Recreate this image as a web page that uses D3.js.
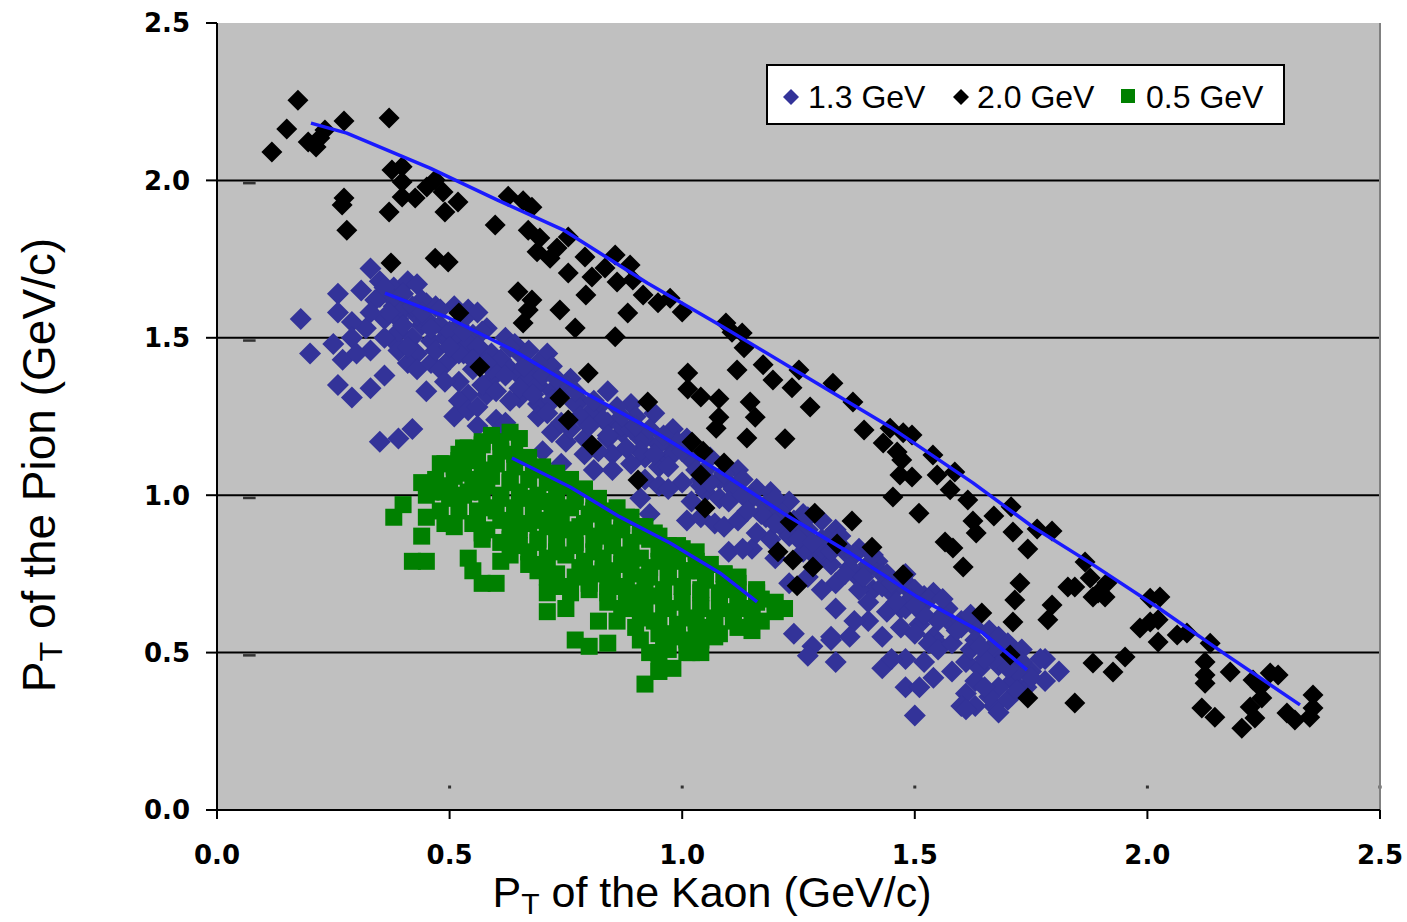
<!DOCTYPE html>
<html>
<head>
<meta charset="utf-8">
<script src="https://cdn.jsdelivr.net/npm/d3@7/dist/d3.min.js"></script>
<style>
html,body{margin:0;padding:0;background:#fff;}
svg{display:block;}
</style>
</head>
<body>
<svg id="chart" width="1407" height="922"></svg>
<script>
// ---------------- DATA (PT kaon, PT pion) in GeV/c ----------------
const seriesNames = ["1.3 GeV", "2.0 GeV", "0.5 GeV"];
const xTicks = [0, 0.5, 1.0, 1.5, 2.0, 2.5];
const yTicks = [0, 0.5, 1.0, 1.5, 2.0, 2.5];

const pts13 = [
[0.18,1.56],[0.20,1.45],[0.26,1.64],[0.25,1.48],[0.27,1.43],[0.26,1.35],[0.29,1.31],[0.33,1.34],[0.36,1.38],[0.33,1.46],
[0.32,1.53],[0.29,1.55],[0.26,1.58],[0.29,1.50],[0.30,1.45],[0.31,1.65],[0.33,1.72],[0.35,1.68],[0.35,1.63],[0.36,1.56],
[0.38,1.60],[0.38,1.66],[0.41,1.68],[0.43,1.67],[0.39,1.56],[0.38,1.49],[0.39,1.46],[0.42,1.50],[0.43,1.45],[0.41,1.42],
[0.43,1.40],[0.45,1.33],[0.42,1.21],[0.39,1.18],[0.35,1.17],[0.45,1.61],[0.44,1.54],[0.47,1.60],[0.46,1.42],[0.48,1.40],
[0.50,1.43],[0.49,1.50],[0.51,1.60],[0.52,1.54],[0.54,1.59],[0.56,1.58],[0.58,1.53],[0.55,1.51],[0.53,1.45],[0.55,1.40],
[0.52,1.36],[0.54,1.32],[0.52,1.30],[0.51,1.25],[0.54,1.27],[0.56,1.28],[0.58,1.32],[0.56,1.22],[0.60,1.24],[0.61,1.21],
[0.59,1.37],[0.62,1.50],[0.65,1.45],[0.65,1.31],[0.60,1.41],
[0.69,1.29],[0.71,1.45],[0.67,1.40],[0.72,1.41],[0.76,1.37],[0.78,1.30],[0.72,1.20],[0.70,1.14],[0.74,1.10],[0.75,1.17],
[0.79,1.18],[0.79,1.13],[0.81,1.08],[0.84,1.33],[0.82,1.28],[0.84,1.23],[0.84,1.18],[0.85,1.13],[0.85,1.08],[0.87,1.20],
[0.89,1.29],[0.90,1.25],[0.91,1.18],[0.94,1.26],[0.92,1.12],[0.95,1.09],[0.92,1.05],[0.95,1.03],[0.98,1.21],[0.97,1.12],
[1.00,1.04],[0.98,1.15],[1.01,1.18],[1.04,1.05],[1.05,1.01],[1.08,0.99],[0.91,0.99],[0.93,0.94],[1.01,0.92],[1.04,0.93],
[1.07,0.91],[0.62,1.23],[0.61,1.43],[0.64,1.48],[0.67,1.46],
[1.12,1.08],[1.10,1.04],[1.16,1.02],[1.19,1.01],[1.18,0.93],[1.23,0.98],[1.22,0.89],[1.25,0.90],[1.26,0.94],[1.30,0.92],
[1.33,0.89],[1.30,0.86],[1.29,0.80],[1.32,0.78],[1.35,0.82],[1.38,0.83],[1.37,0.75],[1.40,0.77],[1.42,0.79],[1.43,0.75],
[1.41,0.70],[1.38,0.70],[1.33,0.72],[1.30,0.70],[1.27,0.74],[1.23,0.72],[1.19,0.86],[1.20,0.80],[1.15,0.83],[1.10,0.82],
[1.13,0.83],[1.09,0.90],[1.45,0.69],[1.47,0.64],[1.48,0.71],[1.52,0.68],[1.54,0.69],[1.57,0.64],[1.58,0.59],[1.51,0.59],
[1.47,0.58],[1.43,0.55],[1.40,0.60],[1.37,0.60],[1.33,0.64],[1.36,0.55],[1.24,0.56],[1.28,0.52],[1.32,0.55],[1.44,0.63],
[1.40,0.66],[1.54,0.55],[1.55,0.53],
[1.49,0.71],[1.48,0.64],[1.57,0.64],[1.60,0.60],[1.63,0.58],[1.66,0.57],[1.68,0.55],[1.50,0.56],[1.53,0.53],[1.55,0.51],
[1.48,0.48],[1.52,0.47],[1.58,0.44],[1.61,0.47],[1.64,0.45],[1.68,0.47],[1.71,0.49],[1.73,0.51],[1.75,0.44],[1.78,0.48],
[1.81,0.44],[1.78,0.41],[1.74,0.39],[1.71,0.41],[1.68,0.39],[1.63,0.41],[1.61,0.37],[1.63,0.33],[1.67,0.33],[1.70,0.35],
[1.66,0.36],[1.60,0.33],[1.50,0.30],[1.48,0.39],[1.51,0.39],[1.54,0.42],
[1.27,0.49],[1.33,0.47],[1.32,0.54],[1.43,0.45],[1.45,0.48],[1.61,0.32],[1.68,0.31],[1.77,0.48],
[0.38,1.62],[0.40,1.59],[0.43,1.57],[0.45,1.56],[0.48,1.54],[0.50,1.52],[0.52,1.49],[0.54,1.48],[0.57,1.46],[0.59,1.45],
[0.61,1.43],[0.63,1.40],[0.65,1.38],[0.67,1.37],[0.69,1.35],[0.72,1.33],[0.74,1.32],[0.77,1.29],[0.80,1.26],[0.83,1.24],
[0.87,1.22],[0.89,1.21],[0.92,1.18],[0.95,1.16],[0.98,1.13],[1.02,1.11],[1.05,1.08],[1.08,1.05],[1.11,1.02],[1.15,0.99],
[1.18,0.97],[1.21,0.95],[1.24,0.92],[1.27,0.89],[1.31,0.86],[1.34,0.84],[1.37,0.81],[1.40,0.78],[1.44,0.75],[1.47,0.72],
[1.50,0.70],[1.53,0.67],[1.56,0.62],[1.60,0.58],[1.63,0.54],[1.66,0.51],[1.69,0.49],[1.73,0.47],
[0.39,1.52],[0.46,1.49],[0.52,1.45],[0.59,1.40],[0.65,1.34],[0.72,1.30],[0.78,1.25],[0.84,1.19],[0.91,1.14],[0.97,1.09],
[1.04,1.03],[1.10,0.98],[1.17,0.94],[1.23,0.87],[1.30,0.83],[1.36,0.77],[1.43,0.71],[1.49,0.67],[1.55,0.60],[1.62,0.51],
[1.68,0.46],[1.75,0.42],
[0.36,1.66],[0.40,1.64],[0.44,1.62],[0.48,1.59],[0.53,1.56],[0.57,1.52],[0.63,1.47],[0.69,1.42],[0.75,1.35],[0.81,1.30],
[0.87,1.25],[0.93,1.21],[0.99,1.17],[1.06,1.12],[1.13,1.05],[1.20,0.99],[1.27,0.93],[1.34,0.87],[1.41,0.81],[1.48,0.75],
[1.56,0.67],[1.62,0.62],[1.70,0.53],
[0.49,1.36],[0.57,1.35],[0.63,1.30],[0.69,1.25],[0.76,1.21],[0.82,1.14],[0.89,1.10],[0.97,1.02],[1.02,0.98],[1.12,0.92],
[1.16,0.88],[1.26,0.82],[1.35,0.75],[1.46,0.66],[1.52,0.62],[1.58,0.53],[1.65,0.48],[1.72,0.44],
[0.34,1.62],[0.37,1.58],[0.40,1.54],[0.42,1.60],[0.44,1.58],[0.46,1.53],[0.41,1.47],[0.36,1.50],[0.33,1.58],[0.47,1.46],
[0.50,1.47],[0.53,1.52],[0.56,1.47],[0.55,1.43],[0.58,1.42],[0.62,1.38],[0.60,1.33],[0.66,1.41],[0.70,1.38],[0.68,1.32],
[0.73,1.37],[0.71,1.26],[0.74,1.23],[0.77,1.33],[0.80,1.22],[0.86,1.28],[0.88,1.15],[0.90,1.22],[0.94,1.13],[0.96,1.19],
[1.00,1.14],[1.03,1.08],[1.06,1.04],[1.09,1.07],[1.13,1.00],[1.14,0.95],[1.20,0.91],[1.25,0.86],[1.28,0.85],[1.32,0.82],
[1.39,0.74],[1.45,0.72],[1.50,0.65],[1.59,0.57],[1.64,0.52],[1.70,0.45],[1.72,0.38],[1.65,0.39]
];

const pts20 = [
[0.174,2.255],[0.150,2.163],[0.118,2.090],[0.196,2.122],[0.213,2.106],[0.232,2.160],[0.221,2.135],[0.273,2.189],[0.370,2.198],[0.376,2.033],
[0.398,2.043],[0.398,1.995],[0.398,1.947],[0.426,1.944],[0.451,1.979],[0.469,2.001],[0.486,1.963],[0.518,1.931],[0.490,1.900],[0.370,1.900],
[0.273,1.944],[0.269,1.922],[0.279,1.842],[0.598,1.858],[0.626,1.950],[0.658,1.935],[0.677,1.915],[0.669,1.842],[0.694,1.817],[0.688,1.773],
[0.716,1.753],[0.731,1.785],[0.755,1.820],[0.755,1.706],[0.791,1.757],[0.806,1.693],[0.834,1.722],[0.856,1.763],[0.860,1.677],[0.888,1.731],
[0.894,1.684],[0.916,1.636],[0.883,1.579],[0.793,1.636],[0.737,1.588],[0.770,1.531],[0.856,1.503],[0.647,1.646],[0.677,1.620],[0.669,1.588],
[0.658,1.547],[0.469,1.753],[0.497,1.741],[0.374,1.738],[0.520,1.579],[0.565,1.407],[0.798,1.388],[0.948,1.611],[0.974,1.626],[1.000,1.582],
[1.094,1.547],[1.107,1.518],[1.129,1.515],[1.133,1.468],[1.174,1.414],[1.195,1.366],[1.236,1.341],[1.251,1.398],[1.275,1.280],[1.324,1.356],
[1.367,1.296],[1.391,1.207],[1.447,1.213],[1.475,1.198],[1.494,1.191],[1.432,1.166],[1.462,1.137],[1.472,1.112],[1.468,1.064],[1.494,1.058],
[1.539,1.128],[1.548,1.064],[1.586,1.074],[1.576,1.017],[1.614,0.985],[1.453,0.994],[1.509,0.943],[1.625,0.918],[1.632,0.880],[1.670,0.934],
[1.707,0.963],[1.711,0.883],[1.763,0.893],[1.795,0.886],[1.012,1.388],[1.012,1.337],[1.040,1.312],[1.079,1.306],[1.118,1.398],[1.146,1.296],
[1.157,1.248],[1.079,1.248],[1.073,1.213],[1.139,1.182],[1.221,1.179],[0.926,1.296],[1.021,1.169],[1.045,1.140],[1.090,1.102],[1.040,1.064],
[1.049,0.959],[1.285,0.943],[1.365,0.918],[1.232,0.915],[1.333,0.845],[1.206,0.820],[1.238,0.794],[1.281,0.772],[1.247,0.712],[1.408,0.835],
[1.475,0.747],[1.565,0.851],[1.582,0.832],[1.743,0.829],[1.604,0.772],[1.726,0.721],[1.715,0.667],[1.795,0.651],[1.786,0.604],[1.644,0.626],
[1.711,0.597],[1.705,0.492],[1.743,0.356],[1.829,0.708],[1.866,0.788],[1.844,0.708],[1.877,0.737],[1.894,0.689],[1.913,0.721],[1.883,0.677],
[1.909,0.677],[2.006,0.673],[2.027,0.677],[1.984,0.578],[2.006,0.597],[2.023,0.604],[2.023,0.534],[2.064,0.556],[2.085,0.562],[2.135,0.530],
[2.124,0.470],[2.124,0.429],[2.124,0.403],[2.178,0.438],[1.952,0.486],[1.883,0.467],[1.926,0.438],[1.844,0.340],[2.117,0.324],[2.145,0.295],
[2.203,0.260],[2.227,0.413],[2.242,0.391],[2.264,0.435],[2.281,0.429],[2.246,0.356],[2.221,0.327],[2.231,0.292],[2.300,0.308],[2.317,0.286],
[2.356,0.365],[2.356,0.324],[2.349,0.295],[0.737,1.309],[0.755,1.239],[0.806,1.159],[0.905,1.048]
];

const pts05 = [
[0.44,1.04],[0.40,0.97],[0.38,0.93],[0.44,0.87],[0.42,0.79],[0.45,0.79],[0.54,0.80],[0.55,0.76],[0.57,0.72],[0.60,0.72],
[0.61,0.79],[0.67,0.78],[0.57,0.88],[0.49,0.91],[0.45,0.93],[0.46,1.01],[0.50,1.03],[0.49,1.10],[0.52,1.13],[0.54,1.15],
[0.57,1.17],[0.59,1.19],[0.61,1.17],[0.64,1.13],[0.67,1.12],[0.70,1.09],[0.73,1.07],[0.76,1.05],[0.79,1.02],[0.82,0.99],
[0.86,0.96],[0.89,0.93],[0.92,0.90],[0.95,0.87],[0.99,0.84],[1.03,0.82],[1.06,0.78],[1.09,0.75],[1.12,0.72],[1.16,0.69],
[1.20,0.66],[1.17,0.60],[1.15,0.57],[1.08,0.56],[1.04,0.50],[1.04,0.54],[0.98,0.45],[0.95,0.45],[0.92,0.40],[0.95,0.50],
[0.91,0.54],[0.84,0.53],[0.80,0.52],[0.77,0.54],[0.82,0.60],[0.86,0.60],[0.89,0.64],[0.71,0.63],[0.75,0.64],[0.71,0.69],
[0.74,0.71],[0.71,0.74],[0.78,0.77],[0.80,0.72],[0.84,0.69],[0.87,0.71],[0.92,0.74],[0.95,0.68],[0.97,0.64],[1.01,0.61],
[1.04,0.64],[1.07,0.60],[1.11,0.63],[1.14,0.64],[0.97,0.56],[1.01,0.54],[1.04,0.58],[0.96,0.52],[0.87,0.78],[0.83,0.76],
[0.73,0.82],[0.69,0.85],[0.65,0.89],[0.61,0.92],[0.58,0.96],[0.54,1.01],[0.53,1.07],[0.57,1.08],[0.60,1.10],[0.63,1.05],
[0.66,0.99],[0.70,0.98],[0.74,0.94],[0.78,0.90],[0.82,0.87],[0.85,0.84],[0.89,0.80],[0.93,0.77],[0.97,0.74],[1.00,0.71],
[1.04,0.69],[1.08,0.67],[1.12,0.66],[1.15,0.64],[1.20,0.63],[0.77,0.84],[0.73,0.90],[0.69,0.92],[0.64,0.94],[0.61,0.99],
[0.58,1.03],[0.54,1.11],[0.51,1.09],[0.50,0.99],[0.52,0.95],[0.56,0.93],[0.58,0.89],[0.63,0.86],[0.67,0.82],[0.70,0.78],
[0.81,0.82],[0.84,0.88],[0.81,0.95],[0.77,0.98],[0.74,1.03],[0.87,0.91],[0.91,0.87],[0.95,0.83],[0.98,0.79],[1.02,0.76],
[1.05,0.73],[1.09,0.70],[0.90,0.69],[0.87,0.64],[0.94,0.60],[0.90,0.58],[1.12,0.58],[1.02,0.50],[0.95,0.44],[0.65,1.18],
[0.63,1.20],[1.04,0.76],[1.10,0.72],[1.17,0.67],[1.20,0.64],[1.22,0.64],
[0.53,1.15],[0.57,1.16],[0.61,1.14],
[0.48,1.10],[0.52,1.11],[0.56,1.12],[0.60,1.10],[0.64,1.09],[0.68,1.08],
[0.47,1.05],[0.51,1.06],[0.55,1.05],[0.59,1.06],[0.63,1.04],[0.67,1.05],[0.71,1.04],[0.75,1.03],
[0.45,1.00],[0.49,1.01],[0.53,1.00],[0.57,1.01],[0.61,1.00],[0.65,1.01],[0.69,1.00],[0.73,0.99],[0.77,1.00],[0.81,0.98],
[0.48,0.95],[0.56,0.95],[0.60,0.95],[0.64,0.96],[0.68,0.95],[0.72,0.95],[0.76,0.96],[0.80,0.94],[0.84,0.95],[0.88,0.93],
[0.51,0.90],[0.55,0.91],[0.63,0.90],[0.67,0.91],[0.71,0.90],[0.75,0.89],[0.79,0.91],[0.83,0.90],[0.87,0.89],[0.91,0.90],[0.94,0.88],
[0.57,0.86],[0.61,0.85],[0.65,0.84],[0.69,0.86],[0.73,0.85],[0.77,0.85],[0.81,0.86],[0.85,0.84],[0.89,0.85],[0.93,0.86],[0.97,0.84],[1.00,0.83],
[0.63,0.81],[0.71,0.80],[0.75,0.81],[0.79,0.79],[0.83,0.80],[0.87,0.81],[0.91,0.80],[0.95,0.79],[0.99,0.80],[1.03,0.79],[1.06,0.78],
[0.69,0.76],[0.73,0.75],[0.77,0.74],[0.81,0.75],[0.85,0.76],[0.89,0.75],[0.93,0.74],[0.97,0.75],[1.01,0.76],[1.05,0.74],[1.09,0.75],[1.12,0.74],
[0.76,0.69],[0.80,0.70],[0.84,0.71],[0.88,0.70],[0.92,0.69],[0.96,0.70],[1.00,0.71],[1.04,0.70],[1.08,0.69],[1.12,0.70],[1.16,0.70],
[0.84,0.66],[0.88,0.65],[0.92,0.64],[0.96,0.65],[1.00,0.66],[1.04,0.65],[1.08,0.64],[1.12,0.65],[1.16,0.66],
[0.91,0.61],[0.95,0.60],[0.99,0.59],[1.03,0.60],[1.07,0.61],[1.11,0.60],[1.15,0.61],
[0.95,0.56],[0.99,0.55],[1.03,0.56],[1.07,0.55],
[0.93,0.50],[0.97,0.51],[1.01,0.50]
];

const trend13 = [[0.361,1.642],[0.494,1.566],[0.636,1.461],[0.780,1.334],[0.924,1.217],[1.075,1.080],[1.217,0.943],[1.361,0.816],[1.505,0.677],[1.647,0.562],[1.741,0.445]];
const trend20 = [[0.202,2.182],[0.279,2.150],[0.458,2.039],[0.602,1.938],[0.744,1.843],[0.925,1.674],[1.088,1.534],[1.268,1.375],[1.447,1.217],[1.625,1.039],[1.754,0.899],[1.877,0.785],[2.021,0.645],[2.163,0.499],[2.328,0.334]];
const trend05 = [[0.634,1.118],[0.759,1.026],[0.866,0.931],[0.974,0.848],[1.081,0.753],[1.161,0.661]];

// ---------------- DRAWING ----------------
const svg = d3.select("#chart");
const L = 217, R = 1380, T = 23, B = 810;
const x = d3.scaleLinear().domain([0, 2.5]).range([L, R]);
const y = d3.scaleLinear().domain([0, 2.5]).range([B, T]);

const colors = {"1.3 GeV": "#333399", "2.0 GeV": "#000000", "0.5 GeV": "#008000"};
const trendColor = "#1a1aff";

svg.append("rect").attr("x", L).attr("y", T).attr("width", R - L).attr("height", B - T).attr("fill", "#c0c0c0");

svg.append("g").selectAll("line").data(yTicks.filter(v => v > 0 && v < 2.5)).join("line")
  .attr("x1", L).attr("x2", R).attr("y1", d => y(d)).attr("y2", d => y(d))
  .attr("stroke", "#000").attr("stroke-width", 2);

svg.append("g").selectAll("rect").data(yTicks.filter(v => v > 0 && v < 2.5)).join("rect")
  .attr("x", x(0.056)).attr("y", d => y(d) + 1.5).attr("width", x(0.083) - x(0.056)).attr("height", 2.5)
  .attr("fill", "#333");
svg.append("g").selectAll("rect").data(xTicks.filter(v => v > 0)).join("rect")
  .attr("x", d => x(d) - 1.5).attr("y", y(0.073) - 1.5).attr("width", 3).attr("height", 3)
  .attr("fill", "#333");

svg.append("line").attr("x1", R).attr("x2", R).attr("y1", T).attr("y2", B)
  .attr("stroke", "#808080").attr("stroke-width", 2);

const diamond = r => `M0,${-r}L${r},0L0,${r}L${-r},0Z`;

svg.append("g").selectAll("path").data(pts13).join("path")
  .attr("d", diamond(11)).attr("transform", d => `translate(${x(d[0])},${y(d[1])})`)
  .attr("fill", colors["1.3 GeV"]);
svg.append("g").selectAll("path").data(pts20).join("path")
  .attr("d", diamond(10.5)).attr("transform", d => `translate(${x(d[0])},${y(d[1])})`)
  .attr("fill", colors["2.0 GeV"]);
const sq = 17;
svg.append("g").selectAll("rect").data(pts05).join("rect")
  .attr("x", d => x(d[0]) - sq / 2).attr("y", d => y(d[1]) - sq / 2)
  .attr("width", sq).attr("height", sq).attr("fill", colors["0.5 GeV"]);

const line = d3.line().x(d => x(d[0])).y(d => y(d[1]));
[trend13, trend20, trend05].forEach(t => {
  svg.append("path").attr("d", line(t)).attr("fill", "none")
    .attr("stroke", trendColor).attr("stroke-width", 3.5).attr("stroke-linejoin", "round");
});

const yAxis = svg.append("g");
yAxis.append("line").attr("x1", L).attr("x2", L).attr("y1", T).attr("y2", B + 8).attr("stroke", "#000").attr("stroke-width", 2);
yAxis.selectAll("line.t").data(yTicks).join("line").attr("class", "t")
  .attr("x1", L - 11).attr("x2", L).attr("y1", d => y(d)).attr("y2", d => y(d))
  .attr("stroke", "#000").attr("stroke-width", 2);
yAxis.selectAll("text").data(yTicks).join("text")
  .attr("x", 190).attr("y", d => y(d)).attr("dy", "0.36em").attr("text-anchor", "end")
  .attr("font-family", "DejaVu Sans").attr("font-weight", "bold").attr("font-size", 26)
  .text(d => d.toFixed(1));

const xAxis = svg.append("g");
xAxis.append("line").attr("x1", L - 11).attr("x2", R).attr("y1", B).attr("y2", B).attr("stroke", "#000").attr("stroke-width", 2);
xAxis.selectAll("line.t").data(xTicks).join("line").attr("class", "t")
  .attr("x1", d => x(d)).attr("x2", d => x(d)).attr("y1", B).attr("y2", B + 9)
  .attr("stroke", "#000").attr("stroke-width", 2);
xAxis.selectAll("text").data(xTicks).join("text")
  .attr("x", d => x(d)).attr("y", 864).attr("text-anchor", "middle")
  .attr("font-family", "DejaVu Sans").attr("font-weight", "bold").attr("font-size", 26)
  .text(d => d.toFixed(1));

function title(sel, word) {
  sel.append("tspan").text("P");
  sel.append("tspan").attr("font-size", "70%").attr("dy", 7).text("T");
  sel.append("tspan").attr("dy", -7).text(` of the ${word} (GeV/c)`);
}
const xt = svg.append("text").attr("x", 712).attr("y", 907).attr("text-anchor", "middle")
  .attr("font-family", "Liberation Sans").attr("font-size", 43);
title(xt, "Kaon");
const yt = svg.append("text").attr("transform", "translate(55,465) rotate(-90)").attr("text-anchor", "middle")
  .attr("font-family", "Liberation Sans").attr("font-size", 46);
title(yt, "Pion");

const lg = svg.append("g");
lg.append("rect").attr("x", 767).attr("y", 65).attr("width", 517).attr("height", 59)
  .attr("fill", "#fff").attr("stroke", "#000").attr("stroke-width", 2);
const legendItems = [
  {name: seriesNames[0], mx: 791, tx: 808, shape: "d"},
  {name: seriesNames[1], mx: 961, tx: 977, shape: "d"},
  {name: seriesNames[2], mx: 1128, tx: 1146, shape: "s"}
];
legendItems.forEach(it => {
  if (it.shape === "d") {
    lg.append("path").attr("d", diamond(8)).attr("transform", `translate(${it.mx},97)`).attr("fill", colors[it.name]);
  } else {
    lg.append("rect").attr("x", it.mx - 7).attr("y", 89).attr("width", 14).attr("height", 14).attr("fill", colors[it.name]);
  }
  lg.append("text").attr("x", it.tx).attr("y", 108).attr("font-family", "Liberation Sans").attr("font-size", 32).text(it.name);
});
</script>
</body>
</html>
